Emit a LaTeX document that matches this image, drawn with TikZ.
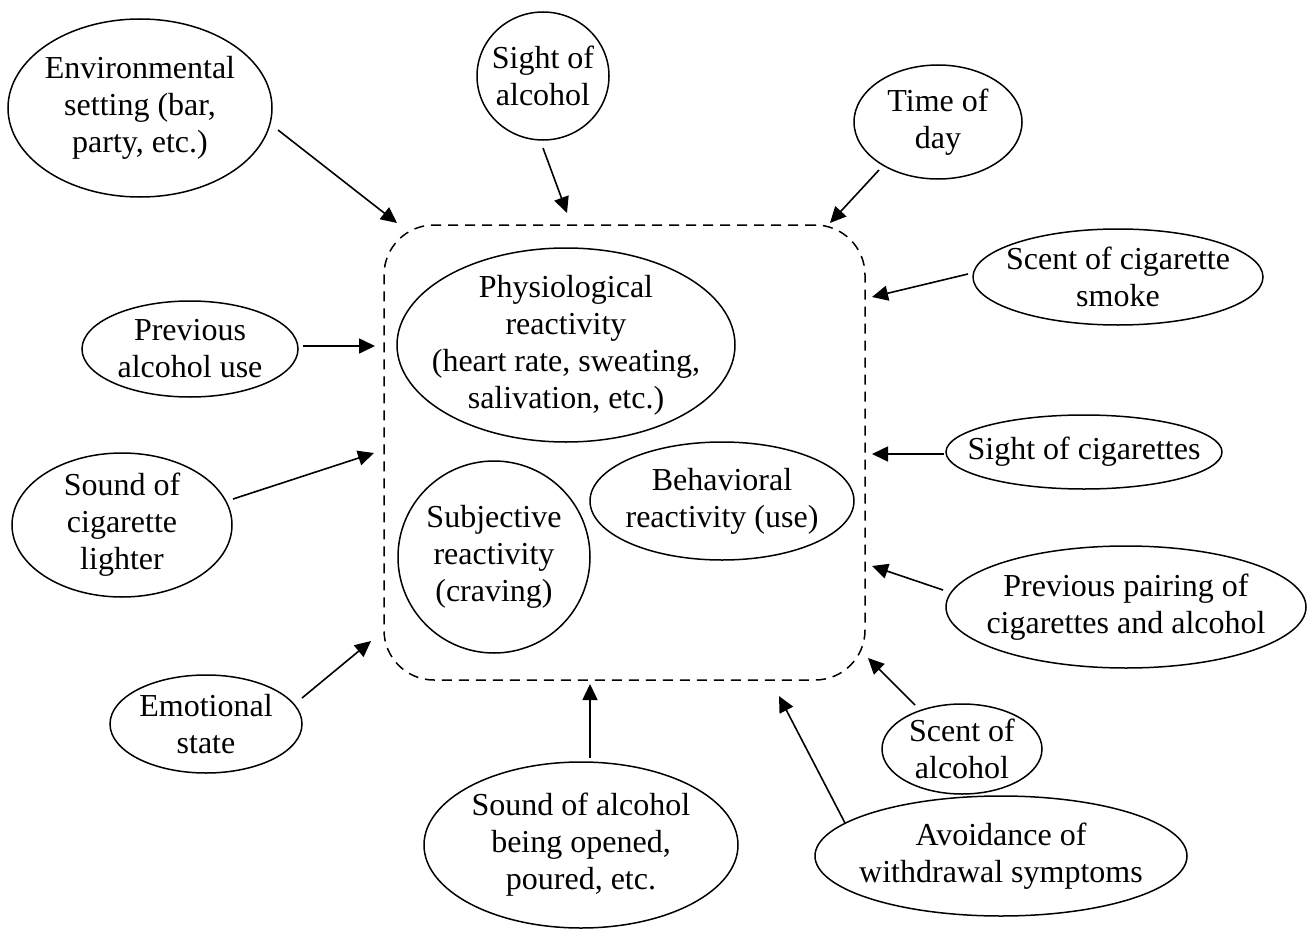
\documentclass[tikz,border=0pt]{standalone}
\usepackage{fontspec}
\setmainfont{Liberation Serif}
\usetikzlibrary{shapes.geometric,arrows.meta}
\begin{document}
\begin{tikzpicture}[x=1pt,y=-1pt,
  oval/.style={draw, ellipse, line width=1.5pt, inner sep=-80pt, align=center,
    font=\fontsize{32}{37}\selectfont},
  arr/.style={-{Triangle[length=16pt,width=15pt]}, line width=1.6pt},
  zone/.style={draw, rectangle, rounded corners=50pt, line width=1.5pt,
    dash pattern=on 10pt off 7pt}]
\useasboundingbox (0,0) rectangle (1307,942);

% central dashed zone
\node[zone, minimum width=481pt, minimum height=455pt] (box) at (624.5,452.5) {};

% inner ellipses
\node[oval, minimum width=338pt, minimum height=194pt] (phys) at (566,345)
  {Physiological\\reactivity\\(heart rate, sweating,\\salivation, etc.)};
\node[oval, minimum width=264pt, minimum height=118pt] (behav) at (722,501)
  {Behavioral\\reactivity (use)};
\node[oval, minimum width=192pt, minimum height=192pt] (subj) at (494,557)
  {Subjective\\reactivity\\(craving)};

% outer ellipses
\node[oval, minimum width=264pt, minimum height=178pt] (env) at (140,108)
  {Environmental\\setting (bar,\\party, etc.)};
\node[oval, minimum width=132pt, minimum height=128pt] (sightalc) at (543,76)
  {Sight of\\alcohol};
\node[oval, minimum width=168pt, minimum height=114pt] (time) at (938,122)
  {Time of\\day};
\node[oval, minimum width=290pt, minimum height=96pt] (smoke) at (1118,277)
  {Scent of cigarette\\smoke};
\node[oval, minimum width=216pt, minimum height=96pt] (prevalc) at (190,349)
  {Previous\\alcohol use};
\node[oval, minimum width=276pt, minimum height=74pt] (sightcig) at (1084,452)
  {Sight of cigarettes};
\node[oval, minimum width=220pt, minimum height=144pt] (lighter) at (122,525)
  {Sound of\\cigarette\\lighter};
\node[oval, minimum width=360pt, minimum height=122pt] (pairing) at (1126,607)
  {Previous pairing of\\cigarettes and alcohol};
\node[oval, minimum width=192pt, minimum height=98pt] (emot) at (206,724)
  {Emotional\\state};
\node[oval, minimum width=160pt, minimum height=90pt] (scentalc) at (962,749)
  {Scent of\\alcohol};
\node[oval, minimum width=372pt, minimum height=120pt] (avoid) at (1001,856)
  {Avoidance of\\withdrawal symptoms};
\node[oval, minimum width=314pt, minimum height=166pt] (soundalc) at (581,845)
  {Sound of alcohol\\being opened,\\poured, etc.};

% connector end points
\coordinate (env-a) at (278,130);      \coordinate (env-b) at (397,223);
\coordinate (sightalc-a) at (543,148); \coordinate (sightalc-b) at (567,213);
\coordinate (time-a) at (879,170);     \coordinate (time-b) at (830,223);
\coordinate (smoke-a) at (968,274);    \coordinate (smoke-b) at (872,297);
\coordinate (prevalc-a) at (303,346);  \coordinate (prevalc-b) at (375,346);
\coordinate (lighter-a) at (233,499);  \coordinate (lighter-b) at (374,453);
\coordinate (sightcig-a) at (944,454); \coordinate (sightcig-b) at (872,454);
\coordinate (pairing-a) at (943,590);  \coordinate (pairing-b) at (872,566);
\coordinate (emot-a) at (302,698);     \coordinate (emot-b) at (371,641);
\coordinate (scentalc-a) at (915,705); \coordinate (scentalc-b) at (868,658);
\coordinate (soundalc-a) at (590,758); \coordinate (soundalc-b) at (590,684);
\coordinate (avoid-a) at (845,823);    \coordinate (avoid-b) at (779,696);

\foreach \n in {env,sightalc,time,smoke,prevalc,lighter,sightcig,pairing,emot,scentalc,soundalc,avoid}
  \draw[arr] (\n-a) -- (\n-b);
\end{tikzpicture}
\end{document}
